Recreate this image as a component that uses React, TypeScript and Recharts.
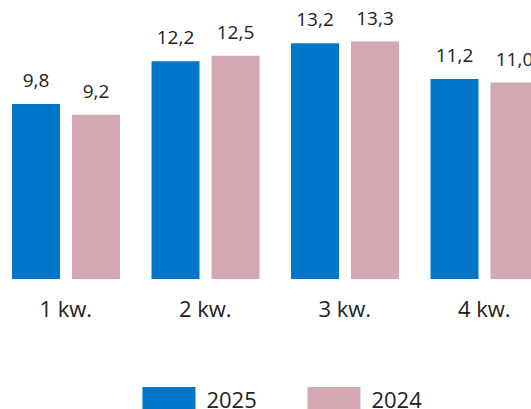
import React from 'react';
import { BarChart, Bar, XAxis, YAxis, LabelList, Legend } from 'recharts';

const categories = ['1 kw.', '2 kw.', '3 kw.', '4 kw.'];
const values2025 = [9.8, 12.2, 13.2, 11.2];
const values2024 = [9.2, 12.5, 13.3, 11.0];
const seriesNames = ['2025', '2024'];
const colors = ['#0077C8', '#D3A8B3'];

const data = categories.map((q, i) => ({ q, v2025: values2025[i], v2024: values2024[i] }));

const FONT = '"Open Sans", "Noto Sans", sans-serif';
const fmt = (v: any) => Number(v).toFixed(1).replace('.', ',');

const LegendContent = () => (
  <svg width={558} height={24} style={{ display: 'block' }}>
    {seriesNames.map((name, i) => (
      <g key={name} transform={`translate(${146.45 + i * 165}, 0)`}>
        <rect x={0} y={2} width={53} height={22} fill={colors[i]} />
        <text x={64} y={23} fontSize={22} fill="#222" fontFamily={FONT}>{name}</text>
      </g>
    ))}
  </svg>
);

export default function App() {
  return (
    <div style={{ position: 'absolute', left: 0, top: 0, width: 531, height: 409, overflow: 'hidden', background: '#fff' }}>
      <div style={{ position: 'absolute', left: -3.75, top: 0 }}>
        <BarChart
          width={558}
          height={409}
          data={data}
          margin={{ top: 29, right: 0, bottom: 0, left: 0 }}
          barSize={48}
          barGap={12}
        >
          <XAxis
            dataKey="q"
            axisLine={false}
            tickLine={false}
            tickSize={0}
            tickMargin={22}
            height={106}
            interval={0}
            tick={{ fontSize: 22, fill: '#222', fontFamily: FONT }}
          />
          <YAxis hide domain={[0, 14]} />
          <Legend verticalAlign="bottom" height={24} content={<LegendContent />} wrapperStyle={{ left: 0, bottom: 0, width: 558, height: 24 }} />
          <Bar dataKey="v2025" name={seriesNames[0]} fill={colors[0]} isAnimationActive={false}>
            <LabelList dataKey="v2025" position="top" offset={17} formatter={fmt} style={{ fontSize: 19, fill: '#222', fontFamily: FONT }} />
          </Bar>
          <Bar dataKey="v2024" name={seriesNames[1]} fill={colors[1]} isAnimationActive={false}>
            <LabelList dataKey="v2024" position="top" offset={17} formatter={fmt} style={{ fontSize: 19, fill: '#222', fontFamily: FONT }} />
          </Bar>
        </BarChart>
      </div>
    </div>
  );
}
